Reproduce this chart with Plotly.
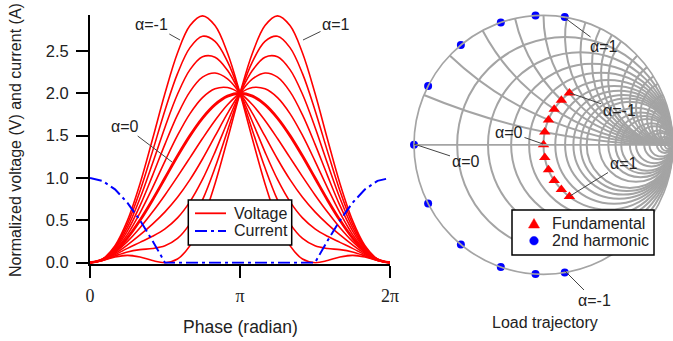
import plotly.graph_objects as go

# ---------------- data ----------------
phase_deg = [0, 15, 30, 45, 60, 75, 90, 105, 120, 135, 150, 165, 180,
             195, 210, 225, 240, 255, 270, 285, 300, 315, 330, 345, 360]

alpha_labels = ["-1", "-0.8", "-0.6", "-0.4", "-0.2", "0", "0.2", "0.4", "0.6", "0.8", "1"]

v_m10 = [0, 0.043, 0.201, 0.500, 0.933, 1.457, 2.000, 2.475, 2.799, 2.914, 2.799, 2.475, 2.000,
         1.457, 0.933, 0.500, 0.201, 0.043, 0.000, 0.025, 0.067, 0.086, 0.067, 0.025, 0]
v_m08 = [0, 0.041, 0.188, 0.459, 0.846, 1.314, 1.800, 2.232, 2.539, 2.673, 2.612, 2.373, 2.000,
         1.559, 1.120, 0.741, 0.461, 0.286, 0.200, 0.168, 0.154, 0.127, 0.080, 0.027, 0]
v_m06 = [0, 0.039, 0.174, 0.417, 0.760, 1.171, 1.600, 1.988, 2.279, 2.431, 2.426, 2.271, 2.000,
         1.661, 1.306, 0.983, 0.721, 0.529, 0.400, 0.312, 0.240, 0.169, 0.094, 0.029, 0]
v_m04 = [0, 0.038, 0.161, 0.376, 0.673, 1.028, 1.400, 1.745, 2.020, 2.190, 2.239, 2.169, 2.000,
         1.762, 1.493, 1.224, 0.980, 0.772, 0.600, 0.455, 0.327, 0.210, 0.107, 0.031, 0]
v_m02 = [0, 0.036, 0.147, 0.334, 0.587, 0.884, 1.200, 1.502, 1.760, 1.949, 2.053, 2.068, 2.000,
         1.864, 1.679, 1.466, 1.240, 1.016, 0.800, 0.598, 0.413, 0.251, 0.121, 0.032, 0]
v_0 = [0, 0.034, 0.134, 0.293, 0.500, 0.741, 1.000, 1.259, 1.500, 1.707, 1.866, 1.966, 2.000,
       1.966, 1.866, 1.707, 1.500, 1.259, 1.000, 0.741, 0.500, 0.293, 0.134, 0.034, 0]
v_p02 = [0, 0.032, 0.121, 0.251, 0.413, 0.598, 0.800, 1.016, 1.240, 1.466, 1.679, 1.864, 2.000,
         2.068, 2.053, 1.949, 1.760, 1.502, 1.200, 0.884, 0.587, 0.334, 0.147, 0.036, 0]
v_p04 = [0, 0.031, 0.107, 0.210, 0.327, 0.455, 0.600, 0.772, 0.980, 1.224, 1.493, 1.762, 2.000,
         2.169, 2.239, 2.190, 2.020, 1.745, 1.400, 1.028, 0.673, 0.376, 0.161, 0.038, 0]
v_p06 = [0, 0.029, 0.094, 0.169, 0.240, 0.312, 0.400, 0.529, 0.721, 0.983, 1.306, 1.661, 2.000,
         2.271, 2.426, 2.431, 2.279, 1.988, 1.600, 1.171, 0.760, 0.417, 0.174, 0.039, 0]
v_p08 = [0, 0.027, 0.080, 0.127, 0.154, 0.168, 0.200, 0.286, 0.461, 0.741, 1.120, 1.559, 2.000,
         2.373, 2.612, 2.673, 2.539, 2.232, 1.800, 1.314, 0.846, 0.459, 0.188, 0.041, 0]
v_p10 = [0, 0.025, 0.067, 0.086, 0.067, 0.025, 0.000, 0.043, 0.201, 0.500, 0.933, 1.457, 2.000,
         2.475, 2.799, 2.914, 2.799, 2.475, 2.000, 1.457, 0.933, 0.500, 0.201, 0.043, 0]

current = [1.0, 0.966, 0.866, 0.707, 0.500, 0.259, 0, 0, 0, 0, 0, 0, 0,
           0, 0, 0, 0, 0, 0, 0.259, 0.500, 0.707, 0.866, 0.966, 1.0]

x_tickvals = [0, 180, 360]
x_ticktext = ["0", "π", "2π"]
y_tickvals = [0, 0.5, 1.0, 1.5, 2.0, 2.5]

# load trajectory (normalized impedances), alpha = -1 ... 1
fund_real = [1.0, 1.0, 1.0, 1.0, 1.0, 1.0, 1.0, 1.0, 1.0, 1.0, 1.0]
fund_imag = [1.0, 0.8, 0.6, 0.4, 0.2, 0.0, -0.2, -0.4, -0.6, -0.8, -1.0]
harm_real = [0.0, 0.0, 0.0, 0.0, 0.0, 0.0, 0.0, 0.0, 0.0, 0.0, 0.0]
harm_imag = [-1.18, -0.94, -0.71, -0.47, -0.24, 0.0, 0.24, 0.47, 0.71, 0.94, 1.18]

smith_real_grid = [0.2, 0.4, 0.6, 0.8, 1, 1.2, 1.4, 1.6, 1.8, 2, 2.5, 3, 3.5, 4, 5, 6, 8,
                   10, 15, 20, 30, 50, 100]
smith_imag_grid = [0.2, 0.4, 0.6, 0.8, 1, 1.2, 1.4, 1.6, 1.8, 2, 2.5, 3, 3.5, 4, 5, 6, 8,
                   10, 15, 20, 30, 50, 100]

# ---------------- figure ----------------
W, H = 673, 341
FONT = "Liberation Sans, Arial, sans-serif"
SERIF = "Liberation Serif, Times New Roman, serif"
RED = "#ff0000"
BLUE = "#0000ff"
GRID = "#a4a4a4"
CURRENT_DASH = "12px,4px,3px,4px"


def fx(p):
    return p / W


def fy(p):
    return 1 - p / H


fig = go.Figure()

voltage_series = [v_m10, v_m08, v_m06, v_m04, v_m02, v_0, v_p02, v_p04, v_p06, v_p08, v_p10]
for lab, vals in zip(alpha_labels, voltage_series):
    fig.add_trace(go.Scatter(
        x=phase_deg, y=vals, mode="lines",
        line=dict(color=RED, width=2.8 if lab == "0" else 1.6, shape="spline", smoothing=1.0),
        name="Voltage α=" + lab, showlegend=False, hoverinfo="skip"))

fig.add_trace(go.Scatter(
    x=phase_deg, y=current, mode="lines",
    line=dict(color=BLUE, width=2, dash=CURRENT_DASH),
    name="Current", showlegend=False, hoverinfo="skip"))

fig.add_trace(go.Scattersmith(
    real=fund_real, imag=fund_imag, mode="markers",
    marker=dict(symbol="triangle-up", color=RED, size=10),
    name="Fundamental", showlegend=False, cliponaxis=False))
fig.add_trace(go.Scattersmith(
    real=harm_real, imag=harm_imag, mode="markers",
    marker=dict(symbol="circle", color=BLUE, size=8),
    name="2nd harmonic", showlegend=False, cliponaxis=False))

fig.update_layout(
    width=W, height=H,
    margin=dict(l=0, r=0, t=0, b=0, autoexpand=False),
    paper_bgcolor="white", plot_bgcolor="white",
    font=dict(family=FONT, size=16, color="#222"),
    showlegend=False,
    xaxis=dict(
        domain=[fx(90), fx(390)], range=[0, 360], automargin=False,
        tickvals=x_tickvals, ticktext=x_ticktext,
        tickfont=dict(family=SERIF, size=18, color="#222"),
        ticks="outside", ticklen=12, tickwidth=2, tickcolor="black",
        showline=True, linewidth=2, linecolor="black",
        showgrid=False, zeroline=False, layer="below traces",
        ticklabelstandoff=3),
    yaxis=dict(
        domain=[fy(263.7), fy(14.5)], range=[-0.012, 2.93], automargin=False,
        tickvals=y_tickvals, tickformat=".1f",
        tickfont=dict(family=FONT, size=16.5, color="#222"),
        ticks="outside", ticklen=12, tickwidth=2, tickcolor="black",
        showline=True, linewidth=2, linecolor="black",
        showgrid=False, zeroline=False, layer="below traces",
        ticklabelstandoff=4),
    smith=dict(
        domain=dict(x=[fx(414), 1.0], y=[fy(274.3), fy(15.3)]),
        bgcolor="white",
        realaxis=dict(tickvals=smith_real_grid, showticklabels=False, ticks="",
                      gridcolor=GRID, gridwidth=1.7,
                      showline=True, linecolor=GRID, linewidth=1.7),
        imaginaryaxis=dict(tickvals=smith_imag_grid, showticklabels=False, ticks="",
                           gridcolor=GRID, gridwidth=1.7,
                           showline=True, linecolor=GRID, linewidth=1.7),
    ),
)

# ---------- legend boxes (drawn in paper space) ----------
shapes = [
    # left legend
    dict(type="rect", x0=fx(188.3), x1=fx(291.7), y0=fy(245), y1=fy(200),
         line=dict(color="black", width=1.5), fillcolor="white", layer="above"),
    dict(type="line", x0=fx(195), x1=fx(226), y0=fy(213.3), y1=fy(213.3),
         line=dict(color=RED, width=1.8), layer="above"),
    dict(type="line", x0=fx(195), x1=fx(226), y0=fy(231), y1=fy(231),
         line=dict(color=BLUE, width=2, dash=CURRENT_DASH), layer="above"),
    # smith legend
    dict(type="rect", x0=fx(512), x1=fx(654), y0=fy(255), y1=fy(210),
         line=dict(color="black", width=1.5), fillcolor="white", layer="above"),
    dict(type="path",
         path=f"M {fx(528.5)} {fy(228)} L {fx(539.5)} {fy(228)} L {fx(534)} {fy(218.5)} Z",
         line=dict(color=RED, width=0.5), fillcolor=RED, layer="above"),
    dict(type="circle", x0=fx(529.7), x1=fx(538.3), y0=fy(245), y1=fy(236.4),
         line=dict(color=BLUE, width=0.5), fillcolor=BLUE, layer="above"),
]
for s in shapes:
    s["xref"] = "paper"
    s["yref"] = "paper"
fig.update_layout(shapes=shapes)

annotations = [
    # axis titles
    dict(text="Normalized voltage (V) and current (A)", x=fx(15), y=fy(140), textangle=-90,
         font=dict(size=16)),
    dict(text="Phase (radian)", x=fx(240.5), y=fy(327), font=dict(size=17.5)),
    dict(text="Load trajectory", x=fx(545), y=fy(322), font=dict(size=16)),
    # legend labels
    dict(text="Voltage", x=fx(232), y=fy(213.3), xanchor="left", font=dict(size=16)),
    dict(text="Current", x=fx(232), y=fy(231), xanchor="left", font=dict(size=16)),
    dict(text="Fundamental", x=fx(550), y=fy(223.3), xanchor="left", font=dict(size=16)),
    dict(text="2nd harmonic", x=fx(550), y=fy(240.7), xanchor="left", font=dict(size=16)),
]
for a in annotations:
    a.setdefault("xanchor", "center")
    a["yanchor"] = "middle"
    a["showarrow"] = False

# (point x, point y, text center x, text center y, text) in pixels
labels = [
    (180, 40, 151.5, 24, "α=-1"),
    (303, 40, 336, 24, "α=1"),
    (172, 162, 124.5, 126, "α=0"),
    (565, 18, 604, 47, "α=1"),
    (570, 93, 619, 110, "α=-1"),
    (543, 144, 509, 132, "α=0"),
    (414, 144, 465.5, 161, "α=0"),
    (570, 196, 623.5, 163, "α=1"),
    (565, 271, 594, 300, "α=-1"),
]
for px_, py_, tx, ty, t in labels:
    annotations.append(dict(
        text=t, x=fx(px_), y=fy(py_),
        ax=tx - px_, ay=ty - py_, axref="pixel", ayref="pixel",
        showarrow=True, arrowhead=0, arrowwidth=1, arrowcolor="#444",
        standoff=0, startstandoff=0,
        font=dict(size=16, color="#222")))

for a in annotations:
    a["xref"] = "paper"
    a["yref"] = "paper"
fig.update_layout(annotations=annotations)

fig.write_html("out.html",
               config={"displayModeBar": False},
               post_script="document.body.style.margin='0px';document.body.style.overflow='hidden';")
